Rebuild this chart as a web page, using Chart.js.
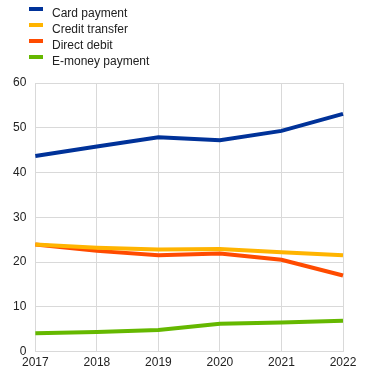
<!DOCTYPE html>
<html>
<head>
<meta charset="utf-8">
<script src="https://cdn.jsdelivr.net/npm/chart.js@4"></script>
<style>
  html, body { margin: 0; padding: 0; background: #fff; }
  #wrap { position: relative; width: 372px; height: 378px; }
  #legend { position: absolute; left: 29px; top: 5px; font: 12px "Liberation Sans", Arial, sans-serif; color: #222; }
  #legend div { height: 16px; line-height: 16px; position: relative; padding-left: 23px; }
  #legend span { position: absolute; left: 0; top: 2px; width: 14px; height: 4px; }
</style>
</head>
<body>
<div id="wrap">
  <canvas id="chart" width="372" height="378"></canvas>
  <div id="legend"></div>
</div>
<script>
const years = ['2017', '2018', '2019', '2020', '2021', '2022'];
const cardPayment = [43.7, 45.8, 47.9, 47.2, 49.3, 53.1];
const creditTransfer = [23.9, 23.2, 22.8, 22.9, 22.2, 21.5];
const directDebit = [23.9, 22.5, 21.5, 21.9, 20.5, 17.0];
const eMoneyPayment = [4.1, 4.4, 4.8, 6.2, 6.5, 6.9];
const yTicks = [0, 10, 20, 30, 40, 50, 60];

const series = [
  { label: 'Card payment', data: cardPayment, color: '#003299' },
  { label: 'Credit transfer', data: creditTransfer, color: '#ffb400' },
  { label: 'Direct debit', data: directDebit, color: '#ff4b00' },
  { label: 'E-money payment', data: eMoneyPayment, color: '#65b800' }
];

// draw order: green, orange, yellow, blue so card line sits on top
const drawOrder = [3, 1, 2, 0];

const legend = document.getElementById('legend');
for (const s of series) {
  const row = document.createElement('div');
  row.innerHTML = `<span style="background:${s.color}"></span>${s.label}`;
  legend.appendChild(row);
}

new Chart(document.getElementById('chart'), {
  type: 'line',
  data: {
    labels: years,
    datasets: series.map((s, i) => ({
      label: s.label,
      data: s.data,
      borderColor: s.color,
      backgroundColor: s.color,
      borderWidth: 4,
      pointRadius: 0,
      tension: 0,
      order: drawOrder[i]
    }))
  },
  options: {
    responsive: false,
    animation: false,
    layout: { padding: { top: 83, right: 29, left: 4, bottom: 4 } },
    plugins: { legend: { display: false }, tooltip: { enabled: false } },
    scales: {
      x: {
        offset: false,
        grid: { color: '#d9d9d9', lineWidth: 1, drawTicks: false },
        border: { color: '#d9d9d9' },
        ticks: { color: '#222', font: { family: 'Liberation Sans', size: 12 }, padding: 4, maxRotation: 0 }
      },
      y: {
        min: 0,
        max: 60,
        afterBuildTicks: axis => { axis.ticks = yTicks.map(v => ({ value: v })); },
        grid: { color: '#d9d9d9', lineWidth: 1, drawTicks: false },
        border: { color: '#d9d9d9' },
        ticks: { color: '#222', font: { family: 'Liberation Sans', size: 12 }, padding: 9 }
      }
    }
  }
});
</script>
</body>
</html>
